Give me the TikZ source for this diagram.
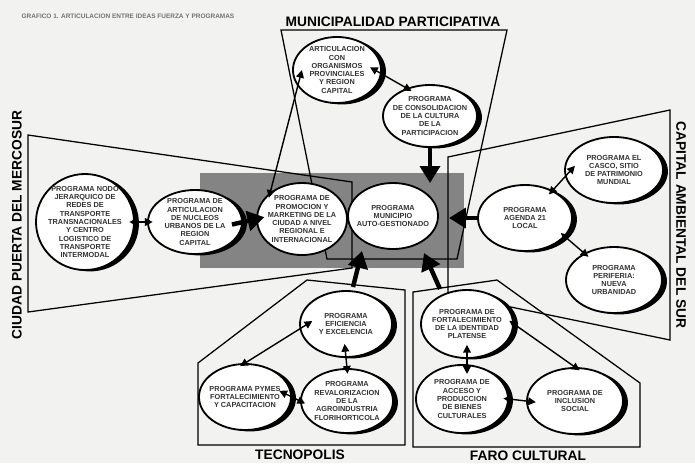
\documentclass[tikz,border=0pt]{standalone}
\usepackage{fontspec}
\setmainfont{Liberation Sans}
\usetikzlibrary{shapes.geometric,arrows.meta,shadows}
\definecolor{paper}{RGB}{242,242,240}
\definecolor{centro}{RGB}{132,132,132}
\newcommand{\progfont}{\fontsize{5.2}{5.9}\selectfont\bfseries}
\newcommand{\ideafont}{\fontsize{9.8}{11}\selectfont\bfseries}
\tikzset{
  prog/.style={ellipse, draw=black, line width=1.3pt, fill=white, inner sep=0pt},
  shad/.style={prog, general shadow={fill=black, shadow xshift=3.5pt, shadow yshift=-1pt}},
  ptxt/.style={font=\progfont, align=center, text=black!80},
  zona/.style={draw=black, line width=0.9pt},
  dbl/.style={{Triangle[length=5.5pt,width=5.5pt]}-{Triangle[length=5.5pt,width=5.5pt]}, line width=1pt, shorten <=-4pt, shorten >=-4pt},
  flecha/.style={-{Triangle[length=12pt,width=14pt]}, line width=3.2pt},
  idea/.style={font=\ideafont}
}

\begin{document}
\begin{tikzpicture}[x=0.025cm, y=-0.025cm]
  \useasboundingbox (0,0) rectangle (695,463);
  \fill[paper] (0,0) rectangle (695,463);

  % titulo
  \node[font=\fontsize{4.6}{5}\selectfont\bfseries, text=black!55] (titulo) at (128,16) {GRAFICO 1. ARTICULACION ENTRE IDEAS FUERZA Y PROGRAMAS};

  % zona central
  \fill[centro] (200,173) rectangle (464,268);

  % ideas fuerza
  \draw[zona] (281,30) -- (507,30) -- (457,259) -- (327,259) -- cycle;
  \draw[zona] (28,135) -- (352,182) -- (352,268) -- (28,312) -- cycle;
  \draw[zona] (670,110) -- (670,340) -- (448,294) -- (448,157) -- cycle;
  \draw[zona] (198,445) -- (198,363) -- (307,280) -- (405,290) -- (405,445) -- cycle;
  \draw[zona] (413,447) -- (413,292) -- (497,280) -- (640,383) -- (640,447) -- cycle;

  \node[idea] (municipalidad) at (393,22) {MUNICIPALIDAD PARTICIPATIVA};
  \node[idea, rotate=90] (ciudad) at (17,225) {CIUDAD PUERTA DEL MERCOSUR};
  \node[idea, rotate=-90] (capital) at (681,225) {CAPITAL AMBIENTAL DEL SUR};
  \node[idea] (tecnopolis) at (300,455) {TECNOPOLIS};
  \node[idea] (faro) at (528,456) {FARO CULTURAL};

  % programas
  \node[shad, minimum width=2.2cm, minimum height=1.65cm,
    label={[ptxt]center:{ARTICULACION\\CON\\ORGANISMOS\\PROVINCIALES\\Y REGION\\CAPITAL}}] (art) at (337,70) {};
  \node[shad, minimum width=2.35cm, minimum height=1.55cm,
    label={[ptxt]center:{PROGRAMA\\DE CONSOLIDACION\\DE LA CULTURA\\DE LA\\PARTICIPACION}}] (cult) at (430,116) {};
  \node[shad, minimum width=2.45cm, minimum height=2.4cm,
    label={[ptxt]center:{PROGRAMA NODO\\JERARQUICO DE\\REDES DE\\TRANSPORTE\\TRANSNACIONALES\\Y CENTRO\\LOGISTICO DE\\TRANSPORTE\\INTERMODAL}}] (nodo) at (85,222) {};
  \node[shad, minimum width=2.35cm, minimum height=1.6cm,
    label={[ptxt]center:{PROGRAMA DE\\ARTICULACION\\DE NUCLEOS\\URBANOS DE LA\\REGION\\CAPITAL}}] (nucleos) at (195,222) {};
  \node[prog, minimum width=2.25cm, minimum height=1.8cm,
    label={[ptxt]center:{PROGRAMA DE\\PROMOCION Y\\MARKETING DE LA\\CIUDAD A NIVEL\\REGIONAL E\\INTERNACIONAL}}] (promo) at (302,219) {};
  \node[prog, minimum width=2.25cm, minimum height=1.65cm,
    label={[ptxt]center:{PROGRAMA\\MUNICIPIO\\AUTO-GESTIONADO}}] (muni) at (393,216) {};
  \node[shad, minimum width=2.35cm, minimum height=1.65cm,
    label={[ptxt]center:{PROGRAMA\\AGENDA 21\\LOCAL}}] (agenda) at (525,218) {};
  \node[shad, minimum width=2.45cm, minimum height=1.65cm,
    label={[ptxt]center:{PROGRAMA EL\\CASCO, SITIO\\DE PATRIMONIO\\MUNDIAL}}] (casco) at (614,170) {};
  \node[shad, minimum width=2.4cm, minimum height=1.65cm,
    label={[ptxt]center:{PROGRAMA\\PERIFERIA:\\NUEVA\\URBANIDAD}}] (periferia) at (614,280) {};
  \node[shad, minimum width=2.3cm, minimum height=1.65cm,
    label={[ptxt]center:{PROGRAMA\\EFICIENCIA\\Y EXCELENCIA}}] (eficiencia) at (346,324) {};
  \node[shad, minimum width=2.3cm, minimum height=1.65cm,
    label={[ptxt]center:{PROGRAMA PYMES\\FORTALECIMIENTO\\Y CAPACITACION}}] (pymes) at (245,397) {};
  \node[shad, minimum width=2.3cm, minimum height=1.6cm,
    label={[ptxt]center:{PROGRAMA\\REVALORIZACION\\DE LA\\AGROINDUSTRIA\\FLORIHORTICOLA}}] (agro) at (347,401) {};
  \node[shad, minimum width=2.3cm, minimum height=1.7cm,
    label={[ptxt]center:{PROGRAMA DE\\FORTALECIMIENTO\\DE LA IDENTIDAD\\PLATENSE}}] (identidad) at (467,324) {};
  \node[shad, minimum width=2.3cm, minimum height=1.7cm,
    label={[ptxt]center:{PROGRAMA DE\\ACCESO Y\\PRODUCCION\\DE BIENES\\CULTURALES}}] (bienes) at (462,399) {};
  \node[shad, minimum width=2.4cm, minimum height=1.65cm,
    label={[ptxt]center:{PROGRAMA DE\\INCLUSION\\SOCIAL}}] (inclusion) at (575,401) {};

  % entradas a la zona central
  \coordinate (topin) at (430,183);
  \coordinate (rightin) at (449,218);
  \coordinate (tecout) at (353,287);
  \coordinate (tecin) at (362,251);
  \coordinate (farout) at (440,289);
  \coordinate (farin) at (424,253);

  % relaciones
  \draw[dbl, shorten <=0pt] ([xshift=7pt]art.west) -- (promo.140);
  \draw[dbl] ([xshift=-5pt]art.east) -- (cult.130);
  \draw[dbl] (nodo.east) -- (nucleos.west);
  \draw[dbl] (agenda.45) -- ([xshift=5pt]casco.west);
  \draw[dbl] (agenda.-25) -- (periferia.138);
  \draw[dbl] ([xshift=6pt]eficiencia.west) -- (pymes.north);
  \draw[dbl, shorten <=-10pt] (eficiencia.south) -- (agro.north);
  \draw[dbl, shorten <=-10pt] (pymes.east) -- (agro.west);
  \draw[dbl, shorten <=-10pt, shorten >=-7pt] (identidad.south) -- (identidad.south |- bienes.north);
  \draw[dbl] (identidad.east) -- (inclusion.north);
  \draw[dbl, shorten >=-7pt] (bienes.east) -- (inclusion.west);

  \draw[flecha] (cult.south) -- (topin);
  \draw[flecha, shorten <=-8pt, shorten >=-6pt] (nucleos.east) -- (promo.west);
  \draw[flecha] (agenda.west) -- (rightin);
  \draw[flecha] (tecout) -- (tecin);
  \draw[flecha] (farout) -- (farin);
\end{tikzpicture}
\end{document}
